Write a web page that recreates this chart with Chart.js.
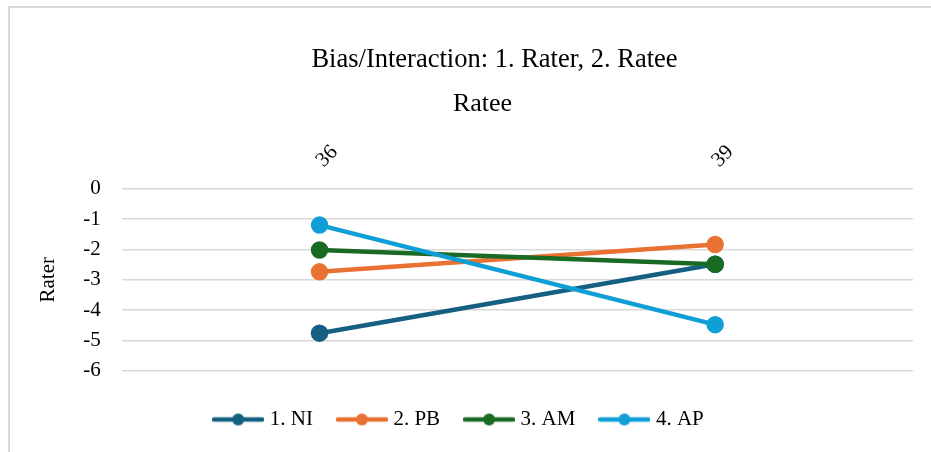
<!DOCTYPE html>
<html>
<head>
<meta charset="utf-8">
<script src="https://cdn.jsdelivr.net/npm/chart.js@4.4.1/dist/chart.umd.min.js"></script>
<style>
  html, body { margin: 0; padding: 0; background: #fff; overflow: hidden; }
  #frame { position: absolute; left: 8px; top: 6px; width: 1000px; height: 1000px; border: 2px solid #d9d9d9; }
  #wrap { position: absolute; left: 0; top: 0; width: 931px; height: 452px; }
</style>
</head>
<body>
<div id="frame"></div>
<div id="wrap"><canvas id="chart" width="931" height="452"></canvas></div>
<script>
const ratees = ["36", "39"];
const seriesNames = ["1. NI", "2. PB", "3. AM", "4. AP"];
const niValues = [-4.76, -2.49];
const pbValues = [-2.74, -1.84];
const amValues = [-2.02, -2.49];
const apValues = [-1.20, -4.48];
const raterTicks = [0, -1, -2, -3, -4, -5, -6];

const chartTitle = "Bias/Interaction: 1. Rater, 2. Ratee";
const colors = ["#156082", "#E97132", "#196B24", "#0F9ED5"];
const font = "'Liberation Serif', 'Times New Roman', serif";

// little line + dot picture for each legend entry
const legendMarker = (color) => {
  const c = document.createElement("canvas");
  c.width = 52;
  c.height = 14;
  const g = c.getContext("2d");
  g.strokeStyle = color;
  g.lineWidth = 4.5;
  g.lineCap = "round";
  g.beginPath();
  g.moveTo(2, 7);
  g.lineTo(50, 7);
  g.stroke();
  g.fillStyle = color;
  g.beginPath();
  g.arc(26, 7, 6, 0, Math.PI * 2);
  g.fill();
  return c;
};

// Excel does not centre the titles and legend on the same line, shift them a bit
const nudgeBoxes = {
  id: "nudgeBoxes",
  afterLayout(chart) {
    chart.boxes.forEach((b) => {
      let dx = 0;
      if (b === chart.legend) dx = -14;
      else if (b.options && b.options.text === chartTitle) dx = 20;
      else if (b.options && b.options.text === "Ratee") dx = 8;
      b.left += dx;
      b.right += dx;
    });
  },
};

const makeSet = (label, data, i) => ({
  label: label,
  data: data,
  borderColor: colors[i],
  backgroundColor: colors[i],
  borderWidth: 4.5,
  pointRadius: 6.5,
  pointHoverRadius: 6.5,
  order: 4 - i,
});

const ctx = document.getElementById("chart").getContext("2d");

new Chart(ctx, {
  type: "line",
  data: {
    labels: ratees,
    datasets: [
      makeSet(seriesNames[0], niValues, 0),
      makeSet(seriesNames[1], pbValues, 1),
      makeSet(seriesNames[2], amValues, 2),
      makeSet(seriesNames[3], apValues, 3),
    ],
  },
  plugins: [nudgeBoxes],
  options: {
    responsive: false,
    animation: false,
    layout: { padding: { left: 36, right: 18, bottom: 12 } },
    plugins: {
      title: {
        display: true,
        text: chartTitle,
        color: "#000",
        font: { family: font, size: 26.5, weight: "normal" },
        padding: { top: 44, bottom: 10 },
      },
      subtitle: {
        display: true,
        text: "Ratee",
        color: "#000",
        font: { family: font, size: 26 },
        padding: { top: 3, bottom: 12 },
      },
      legend: {
        position: "bottom",
        title: { display: true, text: "", padding: 0, font: { size: 8.5 } },
        labels: {
          color: "#000",
          font: { family: font, size: 21 },
          usePointStyle: true,
          pointStyleWidth: 42,
          padding: 28,
          generateLabels: (chart) =>
            chart.data.datasets.map((ds, i) => ({
              text: ds.label,
              datasetIndex: i,
              pointStyle: legendMarker(colors[i]),
              fillStyle: colors[i],
              strokeStyle: colors[i],
              lineWidth: 0,
              fontColor: "#000",
            })),
        },
      },
      tooltip: { enabled: false },
    },
    scales: {
      x: {
        position: "top",
        offset: true,
        grid: { display: false },
        border: { display: false },
        ticks: {
          color: "#000",
          font: { family: font, size: 21 },
          minRotation: 45,
          maxRotation: 45,
          padding: 8,
          labelOffset: 18,
        },
      },
      y: {
        min: -6,
        max: 0,
        afterBuildTicks: (axis) => {
          axis.ticks = raterTicks.map((v) => ({ value: v }));
        },
        grid: { color: "#d9d9d9", lineWidth: 1.5, drawTicks: false },
        border: { display: false },
        title: {
          display: true,
          text: "Rater",
          color: "#000",
          font: { family: font, size: 21 },
          padding: { top: 0, bottom: 1 },
        },
        ticks: {
          color: "#000",
          font: { family: font, size: 21 },
          padding: 21,
        },
      },
    },
  },
});
</script>
</body>
</html>
